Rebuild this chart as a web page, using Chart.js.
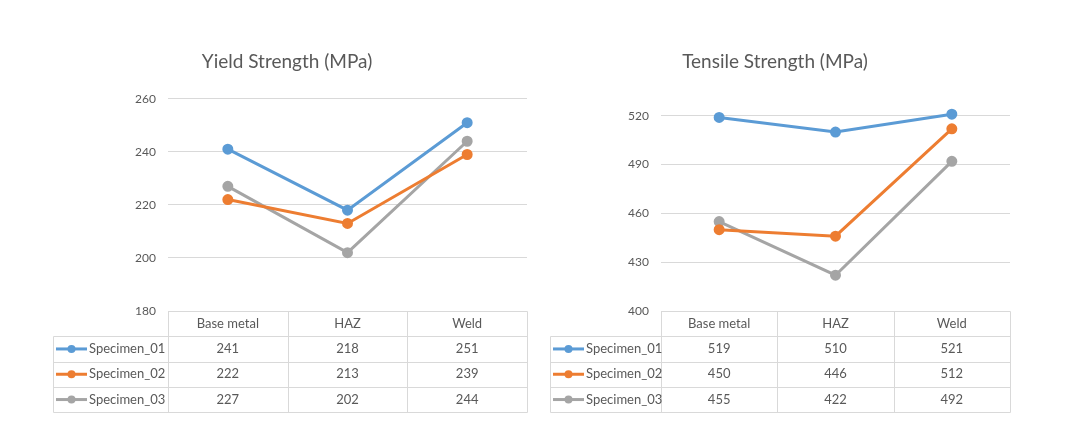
<!DOCTYPE html>
<html>
<head>
<meta charset="utf-8">
<script src="https://cdn.jsdelivr.net/npm/chart.js@4.4.1/dist/chart.umd.min.js"></script>
<style>
  body { margin: 0; background: #ffffff; }
  #yieldCanvas { position: absolute; left: 47px; top: 0; }
  #tensileCanvas { position: absolute; left: 540px; top: 0; }
</style>
</head>
<body>
<canvas id="yieldCanvas" width="482" height="435"></canvas>
<canvas id="tensileCanvas" width="472" height="435"></canvas>
<script>
// data
const categories = ["Base metal", "HAZ", "Weld"];
const seriesNames = ["Specimen_01", "Specimen_02", "Specimen_03"];
const seriesColors = ["#5B9BD5", "#ED7D31", "#A5A5A5"];

const yieldSpecimen01 = [241, 218, 251];
const yieldSpecimen02 = [222, 213, 239];
const yieldSpecimen03 = [227, 202, 244];
const yieldTicks = [180, 200, 220, 240, 260];

const tensileSpecimen01 = [519, 510, 521];
const tensileSpecimen02 = [450, 446, 512];
const tensileSpecimen03 = [455, 422, 492];
const tensileTicks = [400, 430, 460, 490, 520];

const textColor = "#595959";
const gridColor = "#d9d9d9";
const fontFamily = "Lato, 'Open Sans', sans-serif";

// draws the data table (legend keys + values) under the plot area
const dataTablePlugin = {
  id: "dataTable",
  afterDraw(chart, args, opts) {
    const { ctx, chartArea } = chart;
    const x = chart.scales.x;
    const top = chartArea.bottom;
    const rowH = opts.rowHeight;
    const left = opts.tableLeft;
    const right = chartArea.right;
    const nRows = chart.data.datasets.length + 1;
    const bottom = top + nRows * rowH;

    const bounds = [chartArea.left];
    for (let i = 0; i < categories.length - 1; i++) {
      bounds.push((x.getPixelForValue(i) + x.getPixelForValue(i + 1)) / 2);
    }
    bounds.push(right);

    function line(x1, y1, x2, y2) {
      ctx.beginPath();
      ctx.moveTo(Math.round(x1) + 0.5, Math.round(y1) + 0.5);
      ctx.lineTo(Math.round(x2) + 0.5, Math.round(y2) + 0.5);
      ctx.stroke();
    }

    ctx.save();
    ctx.strokeStyle = gridColor;
    ctx.lineWidth = 1;
    line(chartArea.left, top, right, top);
    for (let r = 1; r <= nRows; r++) {
      line(left, top + r * rowH, right, top + r * rowH);
    }
    bounds.forEach((b) => line(b, top, b, bottom));
    line(left, top + rowH, left, bottom);

    ctx.fillStyle = textColor;
    ctx.font = "13px " + fontFamily;
    ctx.textAlign = "center";
    ctx.textBaseline = "middle";
    categories.forEach((c, i) => {
      ctx.fillText(c, x.getPixelForValue(i), top + rowH / 2);
    });

    chart.data.datasets.forEach((ds, r) => {
      const cy = top + (r + 1.5) * rowH;
      ds.data.forEach((v, i) => {
        ctx.fillStyle = textColor;
        ctx.textAlign = "center";
        ctx.fillText(String(v), x.getPixelForValue(i), cy);
      });
      // legend key
      ctx.strokeStyle = ds.borderColor;
      ctx.lineWidth = 3;
      ctx.beginPath();
      ctx.moveTo(left + 3, cy);
      ctx.lineTo(left + 34, cy);
      ctx.stroke();
      ctx.fillStyle = ds.borderColor;
      ctx.beginPath();
      ctx.arc(left + 18.5, cy, 4, 0, Math.PI * 2);
      ctx.fill();
      ctx.fillStyle = textColor;
      ctx.textAlign = "left";
      ctx.fillText(ds.label, left + 36, cy);
      ctx.strokeStyle = gridColor;
      ctx.lineWidth = 1;
    });
    ctx.restore();
  },
};

function makeChart(canvasId, titleText, seriesData, ticks, titlePadBottom, tableLeft) {
  const datasets = seriesData.map((values, i) => ({
    label: seriesNames[i],
    data: values,
    borderColor: seriesColors[i],
    backgroundColor: seriesColors[i],
    borderWidth: 3,
    pointRadius: 4,
    pointHoverRadius: 4,
    tension: 0,
    clip: false,
  }));

  return new Chart(document.getElementById(canvasId), {
    type: "line",
    data: { labels: categories, datasets: datasets },
    plugins: [dataTablePlugin],
    options: {
      responsive: false,
      animation: false,
      layout: { autoPadding: false, padding: { left: 0, right: 2, top: 0, bottom: 124 } },
      plugins: {
        legend: { display: false },
        tooltip: { enabled: false },
        title: {
          display: true,
          text: titleText,
          color: textColor,
          font: { family: fontFamily, size: 19, weight: "normal", lineHeight: 1.2 },
          padding: { top: 50, bottom: titlePadBottom },
        },
        dataTable: { rowHeight: 25.3, tableLeft: tableLeft },
      },
      scales: {
        x: { display: false, offset: true },
        y: {
          min: ticks[0],
          max: ticks[ticks.length - 1],
          ticks: {
            stepSize: ticks[1] - ticks[0],
            color: textColor,
            padding: 12,
            font: { family: fontFamily, size: 12 },
          },
          grid: { color: gridColor, drawTicks: false },
          border: { display: false },
          afterFit(scale) {
            scale.width = 121;
          },
        },
      },
    },
  });
}

makeChart("yieldCanvas", "Yield Strength (MPa)",
  [yieldSpecimen01, yieldSpecimen02, yieldSpecimen03], yieldTicks, 26, 6);
makeChart("tensileCanvas", "Tensile Strength (MPa)",
  [tensileSpecimen01, tensileSpecimen02, tensileSpecimen03], tensileTicks, 43, 10);
</script>
</body>
</html>
